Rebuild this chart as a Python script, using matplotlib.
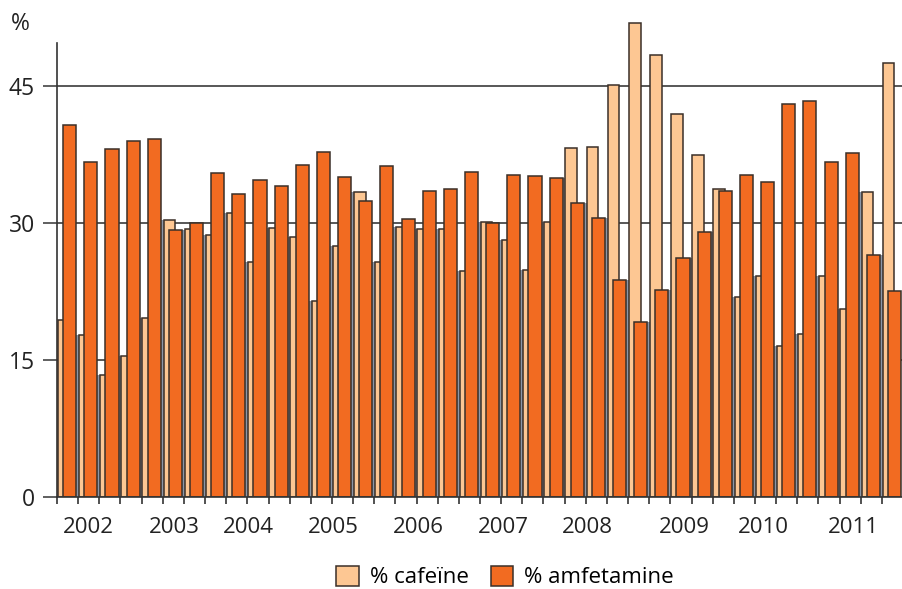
import matplotlib
matplotlib.use("Agg")
import matplotlib.pyplot as plt
from matplotlib.patches import Patch
import numpy as np

plt.rcParams['font.family'] = ['Open Sans', 'DejaVu Sans']

# Quarterly data 2002 Q1 .. 2011 Q4
cafeine = [19.4, 17.7, 13.4, 15.4, 19.6, 30.3, 29.4, 28.7, 31.1, 25.7,
           29.5, 28.5, 21.5, 27.5, 33.4, 25.7, 29.6, 29.4, 29.3, 24.8,
           30.1, 28.1, 24.9, 30.1, 38.2, 38.3, 45.1, 51.9, 48.4, 41.9,
           37.5, 33.7, 21.9, 24.2, 16.5, 17.8, 24.2, 20.6, 33.4, 47.5]
amfetamine = [40.7, 36.7, 38.1, 39.0, 39.2, 29.2, 30.0, 35.5, 33.2, 34.7,
              34.1, 36.4, 37.8, 35.0, 32.4, 36.2, 30.4, 33.5, 33.7, 35.6,
              30.0, 35.3, 35.1, 34.9, 32.2, 30.5, 23.8, 19.2, 22.7, 26.2,
              29.0, 33.5, 35.3, 34.5, 43.0, 43.4, 36.7, 37.7, 26.5, 22.6]
years = ['2002', '2003', '2004', '2005', '2006', '2007', '2008', '2009', '2010', '2011']
year_label_pos = [1.47, 5.53, 9.03, 13.05, 17.07, 21.09, 25.06, 29.64, 33.38, 37.64]
y_ticks = [0, 15, 30, 45]

c_light = '#FDC793'
c_orange = '#F26B21'
c_edge = '#3a2f28'
c_shadow = '#8c97a8'

fig = plt.figure(figsize=(9.03, 5.89), dpi=100)
ax = fig.add_axes([57/903, 92/589, 846/903, 484/589])

n = len(cafeine)
idx = np.arange(n)

# shadow stripes in the gaps left of cafeine bars (hidden above the previous bar)
prev_amf = [0] + amfetamine[:-1]
shadow_h = [min(c, a) for c, a in zip(cafeine, prev_amf)]
ax.bar(idx - 0.09, shadow_h, width=0.13, align='edge', color=c_shadow,
       edgecolor='none', zorder=2)
ax.bar(idx + 0.04, cafeine, width=0.55, align='edge', color=c_light,
       edgecolor=c_edge, linewidth=1.1, zorder=3)
ax.bar(idx + 0.29, amfetamine, width=0.62, align='edge', color=c_orange,
       edgecolor=c_edge, linewidth=1.1, zorder=4)

ax.set_xlim(0, 40)
ax.set_ylim(0, 53)

for v in y_ticks[1:]:
    ax.axhline(v, color='#4a4a4a', linewidth=1.3, zorder=1)

for s in ['top', 'right']:
    ax.spines[s].set_visible(False)
ax.spines['left'].set_bounds(0, 49.7)
ax.spines['left'].set_color('#333333')
ax.spines['left'].set_linewidth(1.2)
ax.spines['bottom'].set_color('#333333')
ax.spines['bottom'].set_linewidth(1.2)
ax.spines['bottom'].set_zorder(5)

ax.set_yticks(y_ticks)
ax.set_yticklabels([str(v) for v in y_ticks], fontsize=16.5, color='#222222')
ax.tick_params(axis='y', length=10, width=1.2, color='#444444', pad=6)

ax.set_xticks(np.arange(0, n + 1))
ax.set_xticklabels([])
ax.tick_params(axis='x', length=5, width=1.2, color='#333333')

for lab, pos in zip(years, year_label_pos):
    ax.text(pos, -3.3, lab, ha='center', va='center', fontsize=16,
            color='#222222', transform=ax.transData, clip_on=False)

fig.text(20/903, 1 - 24/589, '%', ha='center', va='center', fontsize=16.5,
         color='#222222')

handles = [Patch(facecolor=c_light, edgecolor=c_edge, linewidth=1.1, label='% cafeïne'),
           Patch(facecolor=c_orange, edgecolor=c_edge, linewidth=1.1, label='% amfetamine')]
fig.legend(handles=handles, loc='center', bbox_to_anchor=(505/903, 12/589),
           ncol=2, frameon=False, fontsize=16, handlelength=1.0,
           handleheight=1.0, handletextpad=0.5, columnspacing=1.0,
           borderaxespad=0, borderpad=0)

fig.savefig('out.png', dpi=100)
